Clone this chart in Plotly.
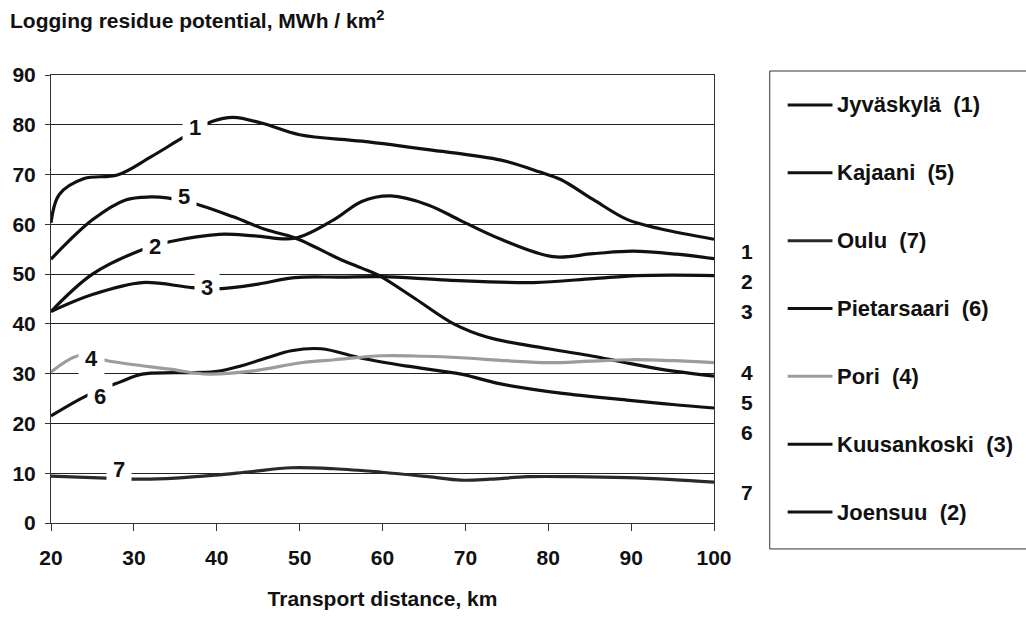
import plotly.graph_objects as go

# ---- data: logging residue potential (MWh / km2) vs transport distance (km) ----
jyvaskyla_x = [20, 21, 24, 28, 32, 36, 39.5, 42, 45.5, 50, 57.5, 65.5, 74.3, 79, 81.5, 85.4, 89.5, 93.5, 100]
jyvaskyla_y = [60.3, 66, 69.2, 69.9, 73.5, 77.5, 80.7, 81.5, 80.3, 78, 76.7, 75.0, 72.9, 70.5, 69.0, 65.0, 61.0, 59.1, 57.0]

kajaani_x = [20, 25, 29, 32, 34, 37.5, 42, 46, 49.4, 55, 57.5, 59.5, 64, 68.6, 72.7, 80, 85.4, 88.5, 93.5, 100]
kajaani_y = [53, 60.9, 64.9, 65.5, 65.3, 64.1, 61.5, 58.9, 57.3, 52.9, 51.2, 49.8, 45, 40, 37.3, 35, 33.5, 32.5, 30.9, 29.5]

oulu_x = [20, 26.6, 31, 35, 39.8, 44, 49, 54.2, 59.9, 65.5, 69.5, 73, 77.5, 83, 89.5, 95, 100]
oulu_y = [9.4, 9.0, 8.8, 9.0, 9.6, 10.3, 11.1, 10.9, 10.2, 9.3, 8.6, 8.8, 9.3, 9.3, 9.1, 8.7, 8.2]

pietarsaari_x = [20, 24.2, 28.3, 31, 35, 39.8, 43, 46.3, 49, 52.6, 57.5, 63, 69.5, 74.1, 81.5, 89.5, 95, 100]
pietarsaari_y = [21.5, 25.5, 28.3, 29.9, 30.2, 30.4, 31.6, 33.3, 34.6, 35, 33.1, 31.5, 29.9, 28, 26.1, 24.7, 23.8, 23.1]

pori_x = [20, 23.5, 27.1, 34.3, 39, 44.2, 50.2, 54.2, 59.9, 65, 69.5, 75, 80, 85, 90, 95, 100]
pori_y = [30.3, 33.7, 32.5, 30.9, 29.9, 30.5, 32.2, 32.8, 33.6, 33.5, 33.2, 32.6, 32.2, 32.5, 32.8, 32.6, 32.2]

kuusankoski_x = [20, 25, 31, 37, 40.6, 45, 49.4, 55, 60, 67.9, 78.2, 85.4, 90.7, 95, 100]
kuusankoski_y = [42.5, 45.9, 48.3, 47.3, 47.1, 48, 49.3, 49.4, 49.5, 48.8, 48.3, 49.1, 49.7, 49.8, 49.7]

joensuu_x = [20, 25, 31, 34.3, 40.3, 44.6, 49.4, 54.2, 57.5, 61, 65.5, 69.5, 74.3, 80.6, 85.4, 90.2, 95.5, 100]
joensuu_y = [42.5, 50, 54.9, 56.5, 58, 57.7, 57.2, 61, 64.6, 65.7, 63.9, 60.7, 57.0, 53.5, 54.1, 54.6, 54.0, 53.1]

series_names = ["Jyväskylä  (1)", "Kajaani  (5)", "Oulu  (7)", "Pietarsaari  (6)",
                "Pori  (4)", "Kuusankoski  (3)", "Joensuu  (2)"]

# curve number tags placed on the lines: (text, x, y)
curve_tags = [("1", 37.4, 79.4), ("5", 36.1, 65.5), ("2", 32.5, 55.5), ("3", 38.8, 47.3),
              ("4", 24.9, 33.1), ("6", 25.9, 25.5), ("7", 28.2, 10.8)]

# numbers listed to the right of the plot: (text, y)
side_numbers = [("1", 54.5), ("2", 48.5), ("3", 42.5), ("4", 30.3),
                ("5", 24.2), ("6", 18.2), ("7", 6.2)]

x_ticks = [20, 30, 40, 50, 60, 70, 80, 90, 100]
y_ticks = [0, 10, 20, 30, 40, 50, 60, 70, 80, 90]

FONT = "Liberation Sans, Arial, sans-serif"
BLACK = "#111111"

# plot-area geometry in pixels (used to place the side key in paper units)
W, H = 1026, 619
L, R, T, B = 48, 312, 75, 95
PW, PH = W - L - R, H - T - B


def px_to_paper_x(px):
    return (px - L) / PW


def px_to_paper_y(py):
    return (H - B - py) / PH


series = [
    (jyvaskyla_x, jyvaskyla_y, BLACK),
    (kajaani_x, kajaani_y, BLACK),
    (oulu_x, oulu_y, "#2a2a2a"),
    (pietarsaari_x, pietarsaari_y, BLACK),
    (pori_x, pori_y, "#9c9c9c"),
    (kuusankoski_x, kuusankoski_y, BLACK),
    (joensuu_x, joensuu_y, BLACK),
]

fig = go.Figure()
for name, (xs, ys, col) in zip(series_names, series):
    fig.add_trace(go.Scatter(
        x=xs, y=ys, name=name, mode="lines", showlegend=False,
        line=dict(color=col, width=3.2, shape="spline", smoothing=1.0),
    ))

annotations = []
for txt, xv, yv in curve_tags:
    annotations.append(dict(
        x=xv, y=yv, xref="x", yref="y", text=txt, showarrow=False,
        font=dict(family=FONT, size=22, color=BLACK, weight="bold"),
        bgcolor="white", borderpad=6,
    ))
for txt, yv in side_numbers:
    annotations.append(dict(
        x=px_to_paper_x(747), y=yv, xref="paper", yref="y", text=txt, showarrow=False,
        xanchor="center", yanchor="middle",
        font=dict(family=FONT, size=21, color=BLACK, weight="bold"),
    ))

# boxed key on the right: a short line sample followed by the series name
shapes = [dict(
    type="rect", xref="paper", yref="paper",
    x0=px_to_paper_x(770), x1=px_to_paper_x(1040),
    y0=px_to_paper_y(550), y1=px_to_paper_y(71),
    line=dict(color="#333333", width=1), fillcolor="rgba(0,0,0,0)", layer="below",
)]
key_top, key_step = 105, 68
for i, (name, (_, _, col)) in enumerate(zip(series_names, series)):
    ky = px_to_paper_y(key_top + i * key_step)
    shapes.append(dict(
        type="line", xref="paper", yref="paper",
        x0=px_to_paper_x(788), x1=px_to_paper_x(833), y0=ky, y1=ky,
        line=dict(color=col, width=3),
    ))
    annotations.append(dict(
        x=px_to_paper_x(836), y=ky, xref="paper", yref="paper", text=name,
        showarrow=False, xanchor="left", yanchor="middle",
        font=dict(family=FONT, size=22, color=BLACK, weight="bold"),
    ))

fig.update_layout(
    width=W, height=H,
    margin=dict(l=L, r=R, t=T, b=B),
    paper_bgcolor="white", plot_bgcolor="white",
    font=dict(family=FONT, size=21, color=BLACK, weight="bold"),
    title=dict(
        text="Logging residue potential, MWh / km<sup>2</sup>",
        x=10 / W, xref="container", xanchor="left",
        y=1 - 21 / H, yref="container", yanchor="middle",
        font=dict(family=FONT, size=21, color=BLACK, weight="bold"),
    ),
    xaxis=dict(
        range=[20, 100], tickvals=x_ticks, ticktext=[str(v) for v in x_ticks],
        showgrid=False, zeroline=False,
        showline=True, linecolor="#333333", linewidth=1, mirror=True,
        ticks="outside", ticklen=7, tickcolor="#333333", ticklabelstandoff=9,
        tickfont=dict(family=FONT, size=21, color=BLACK, weight="bold"),
        title=dict(text="Transport distance, km", standoff=23,
                   font=dict(family=FONT, size=21, color=BLACK, weight="bold")),
    ),
    yaxis=dict(
        range=[0, 90], tickvals=y_ticks,
        showgrid=True, gridcolor="#222222", gridwidth=1, zeroline=False,
        showline=True, linecolor="#333333", linewidth=1, mirror=True,
        ticks="outside", ticklen=5, tickcolor="#333333", ticklabelstandoff=5,
        tickfont=dict(family=FONT, size=21, color=BLACK, weight="bold"),
    ),
    shapes=shapes,
    annotations=annotations,
    showlegend=False,
)

fig.write_html("out.html")
